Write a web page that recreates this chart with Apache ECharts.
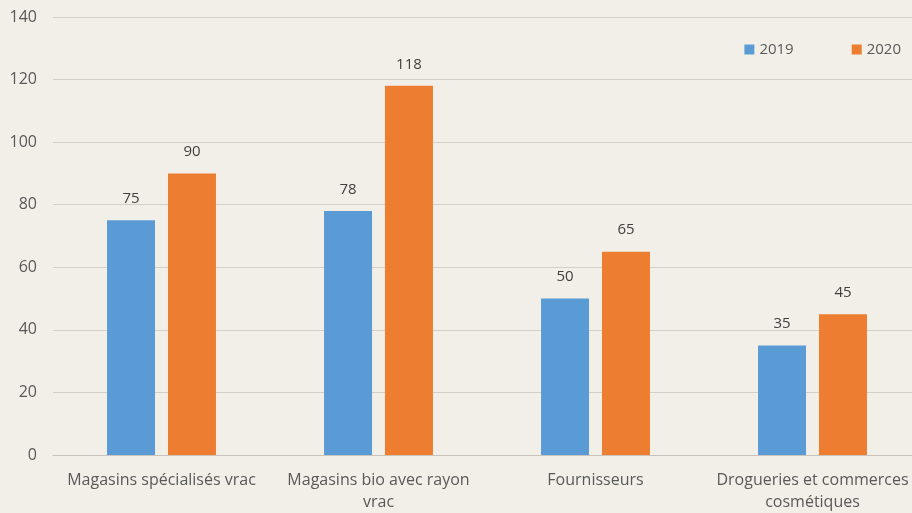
<!DOCTYPE html>
<html>
<head>
<meta charset="utf-8">
<script src="https://cdn.jsdelivr.net/npm/echarts@6/dist/echarts.min.js"></script>
<style>
html,body{margin:0;padding:0;background:#f2efe8;overflow:hidden;width:912px;height:513px;}
#c{width:921px;height:513px;}
</style>
</head>
<body>
<div id="c"></div>
<script>
const categories = ['Magasins spécialisés vrac', 'Magasins bio avec rayon\nvrac', 'Fournisseurs', 'Drogueries et commerces\ncosmétiques'];
const values2019 = [75, 78, 50, 35];
const values2020 = [90, 118, 65, 45];
const seriesNames = ['2019', '2020'];

const chart = echarts.init(document.getElementById('c'));
const font = '"Open Sans", sans-serif';
chart.setOption({
  backgroundColor: '#f2efe8',
  textStyle: {fontFamily: font},
  legend: {
    top: 37, right: 15, itemWidth: 10, itemHeight: 10, itemGap: 58, itemStyle: {borderWidth: 0},
    icon: 'rect',
    textStyle: {fontSize: 15, color: '#595959', fontFamily: font}
  },
  grid: {left: 53, top: 17, right: 0, bottom: 57, containLabel: false},
  xAxis: {
    type: 'category', data: categories,
    axisLine: {lineStyle: {color: '#c8c4bc'}},
    axisTick: {show: false},
    axisLabel: {fontSize: 16, color: '#595959', fontFamily: font, margin: 14, lineHeight: 22, interval: 0}
  },
  yAxis: {
    type: 'value', min: 0, max: 140, interval: 20,
    axisLine: {show: false}, axisTick: {show: false},
    splitLine: {lineStyle: {color: '#d3cfc7'}},
    axisLabel: {fontSize: 16, color: '#595959', fontFamily: font, margin: 16}
  },
  series: [
    {name: seriesNames[0], type: 'bar', data: values2019, barWidth: 48, barGap: '27%',
     itemStyle: {color: '#5b9bd5'},
     label: {show: true, position: 'top', distance: 14, fontSize: 15, color: '#404040', fontFamily: font}},
    {name: seriesNames[1], type: 'bar', data: values2020, barWidth: 48,
     itemStyle: {color: '#ed7d31'},
     label: {show: true, position: 'top', distance: 14, fontSize: 15, color: '#404040', fontFamily: font}}
  ]
});
</script>
</body>
</html>
